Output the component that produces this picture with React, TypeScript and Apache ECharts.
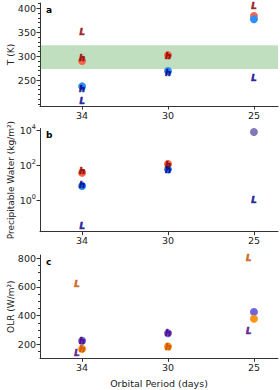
import React, { useEffect, useRef } from "react";
import * as echarts from "echarts";

// Categories (orbital period, days)
const periods = ["34", "30", "25"];

// Panel a: temperature (K)
const tRedCircle: (number | null)[] = [290, 302, 384];
const tBlueCircle: (number | null)[] = [237, 269, 377];
const tRedH: (number | null)[] = [296, 301, null];
const tBlueH: (number | null)[] = [231, 264, null];
const tRedL: (number | null)[] = [350, null, 404];
const tBlueL: (number | null)[] = [206, null, 254];
const habitableBand = [273, 323];
const tTicks = [250, 300, 350, 400];

// Panel b: precipitable water (kg/m2)
const pwRedCircle: (number | null)[] = [40, 125, null];
const pwBlueCircle: (number | null)[] = [7, 62, null];
const pwMixCircle: (number | null)[] = [null, null, 8500];
const pwRedH: (number | null)[] = [52, 105, null];
const pwBlueH: (number | null)[] = [7.5, 55, null];
const pwBlueL: (number | null)[] = [0.036, null, 1.05];
const pwTicks = [1, 100, 10000];

// Panel c: OLR (W/m2)
const olrPurpleCircle: (number | null)[] = [225, 277, 425];
const olrOrangeCircle: (number | null)[] = [168, 184, 378];
const olrPurpleH: (number | null)[] = [225, 277, null];
const olrOrangeH: (number | null)[] = [168, 184, null];
const olrOrangeL: (number | null)[] = [622, null, 805];
const olrPurpleL: (number | null)[] = [137, null, 290];
const olrTicks = [200, 400, 600, 800];

const FONT = "DejaVu Sans";
const AX = "#333";
const TXT = "#222";

const pts = (vals: (number | null)[], dx = 0) =>
  vals
    .map((v, i) => (v == null ? null : [i + dx, v]))
    .filter((p) => p !== null) as number[][];

const circleSeries = (vals: (number | null)[], color: string, gi: number, extra: any = {}) => ({
  type: "scatter",
  xAxisIndex: gi,
  yAxisIndex: gi,
  data: pts(vals),
  symbol: "circle",
  symbolSize: 8,
  itemStyle: { color, opacity: 1 },
  z: 3,
  silent: true,
  ...extra,
});

const letterSeries = (
  vals: (number | null)[],
  letter: string,
  color: string,
  gi: number,
  dx = 0
) => ({
  type: "scatter",
  xAxisIndex: gi,
  yAxisIndex: gi,
  data: pts(vals, dx),
  symbol: "circle",
  symbolSize: 0.01,
  itemStyle: { color: "rgba(0,0,0,0)" },
  z: 5,
  silent: true,
  label: {
    show: true,
    position: "inside",
    formatter: letter,
    color,
    fontSize: 8.5,
    fontStyle: "italic",
    fontWeight: "bold",
    fontFamily: FONT,
    textBorderColor: color,
    textBorderWidth: 0.7,
  },
});

const xMin = -0.49;
const xMax = 2.28;

export default function App() {
  const ref = useRef<HTMLDivElement>(null);

  useEffect(() => {
    if (!ref.current) return;
    const chart = echarts.init(ref.current, undefined, { renderer: "svg" });

    const gridBase = { left: 40, width: 238, containLabel: false, outerBoundsMode: "none" };
    const grids = [
      { ...gridBase, top: 3, height: 103 },
      { ...gridBase, top: 128.5, height: 103.2 },
      { ...gridBase, top: 255, height: 103.3 },
    ];

    const xAxes = grids.map((_, i) => ({
      type: "value",
      gridIndex: i,
      min: xMin,
      max: xMax,
      splitLine: { show: false },
      axisLine: { show: true, onZero: false, lineStyle: { color: AX, width: 1 } },
      axisTick: { show: true, customValues: [0, 1, 2], length: 3.5, lineStyle: { color: AX } },
      axisLabel: {
        customValues: [0, 1, 2],
        formatter: (v: number) => periods[Math.round(v)] ?? "",
        color: TXT,
        fontSize: 9.5,
        fontFamily: FONT,
        margin: 4,
      },
      ...(i === 2
        ? {
            name: "Orbital Period (days)",
            nameLocation: "middle",
            nameGap: 20,
            nameMoveOverlap: false,
            nameTextStyle: { color: TXT, fontSize: 9.5, fontFamily: FONT },
          }
        : {}),
    }));

    const nameStyle = { color: TXT, fontSize: 9, fontFamily: FONT };
    const baseY = {
      splitLine: { show: false },
      axisLine: { show: true, onZero: false, lineStyle: { color: AX, width: 1 } },
      nameLocation: "middle",
      nameGap: 25,
      nameMoveOverlap: false,
      nameTextStyle: nameStyle,
    };

    const tMinor: number[] = [];
    for (let v = 200; v <= 410; v += 10) tMinor.push(v);
    const olrMinor: number[] = [];
    for (let v = 150; v <= 800; v += 50) olrMinor.push(v);

    const yAxes: any[] = [
      {
        ...baseY,
        type: "value",
        gridIndex: 0,
        min: 196,
        max: 411,
        name: "T (K)",
        axisTick: { show: true, customValues: tTicks, length: 3.5, lineStyle: { color: AX } },
        axisLabel: { customValues: tTicks, color: TXT, fontSize: 9.5, fontFamily: FONT, margin: 4 },
      },
      {
        ...baseY,
        type: "log",
        logBase: 10,
        gridIndex: 1,
        min: 0.0169,
        max: 13400,
        name: "Precipitable Water (kg/m²)",
        axisTick: { show: true, customValues: pwTicks, length: 3.5, lineStyle: { color: AX } },
        axisLabel: {
          customValues: pwTicks,
          color: TXT,
          fontSize: 9.5,
          fontFamily: FONT,
          margin: 4,
          formatter: (v: number) => `10{s|${Math.round(Math.log10(v))}}`,
          rich: {
            s: { fontSize: 6.5, fontFamily: FONT, color: TXT, padding: [0, 0, 7, 0] },
          },
        },
      },
      {
        ...baseY,
        type: "value",
        gridIndex: 2,
        min: 102,
        max: 823,
        name: "OLR (W/m²)",
        axisTick: { show: true, customValues: olrTicks, length: 3.5, lineStyle: { color: AX } },
        axisLabel: { customValues: olrTicks, color: TXT, fontSize: 9.5, fontFamily: FONT, margin: 4 },
      },
      // minor tick axes
      {
        type: "value",
        gridIndex: 0,
        min: 196,
        max: 411,
        position: "left",
        splitLine: { show: false },
        axisLine: { show: false, onZero: false },
        axisLabel: { show: false },
        axisTick: { show: true, customValues: tMinor, length: 2, lineStyle: { color: AX } },
      },
      {
        type: "value",
        gridIndex: 2,
        min: 102,
        max: 823,
        position: "left",
        splitLine: { show: false },
        axisLine: { show: false, onZero: false },
        axisLabel: { show: false },
        axisTick: { show: true, customValues: olrMinor, length: 2, lineStyle: { color: AX } },
      },
    ];

    const series: any[] = [
      // panel a
      circleSeries(tRedCircle, "#f5674b", 0, {
        markArea: {
          silent: true,
          itemStyle: { color: "rgba(0,128,0,0.25)" },
          data: [[{ yAxis: habitableBand[0] }, { yAxis: habitableBand[1] }]],
        },
      }),
      circleSeries(tBlueCircle, "#2f8ef5", 0),
      letterSeries(tRedH, "h", "#8b0000", 0),
      letterSeries(tBlueH, "h", "#00008b", 0),
      letterSeries(tRedL, "L", "#8b0000", 0),
      letterSeries(tBlueL, "L", "#00008b", 0),
      // panel b
      circleSeries(pwRedCircle, "#f5674b", 1),
      circleSeries(pwBlueCircle, "#2f8ef5", 1),
      circleSeries(pwMixCircle, "#8479b8", 1),
      letterSeries(pwRedH, "h", "#8b0000", 1),
      letterSeries(pwBlueH, "h", "#00008b", 1),
      letterSeries(pwBlueL, "L", "#00008b", 1),
      // panel c
      circleSeries(olrPurpleCircle, "#7265d8", 2),
      circleSeries(olrOrangeCircle, "#ff9419", 2),
      letterSeries(olrPurpleH, "h", "#4b0082", 2),
      letterSeries(olrOrangeH, "h", "#c85200", 2),
      letterSeries(olrOrangeL, "L", "#c85200", 2, -0.06),
      letterSeries(olrPurpleL, "L", "#4b0082", 2, -0.06),
    ];

    const panelLetter = (t: string, top: number) => ({
      type: "text",
      left: 46,
      top,
      style: { text: t, fill: "#000", font: `bold 9px ${FONT}` },
      z: 10,
    });

    chart.setOption({
      animation: false,
      grid: grids,
      xAxis: xAxes,
      yAxis: yAxes,
      series,
      graphic: [panelLetter("a", 5), panelLetter("b", 130), panelLetter("c", 257)],
    });

    return () => chart.dispose();
  }, []);

  return (
    <div
      ref={ref}
      style={{ position: "fixed", left: 0, top: 0, width: 280, height: 390, background: "#fff" }}
    />
  );
}
